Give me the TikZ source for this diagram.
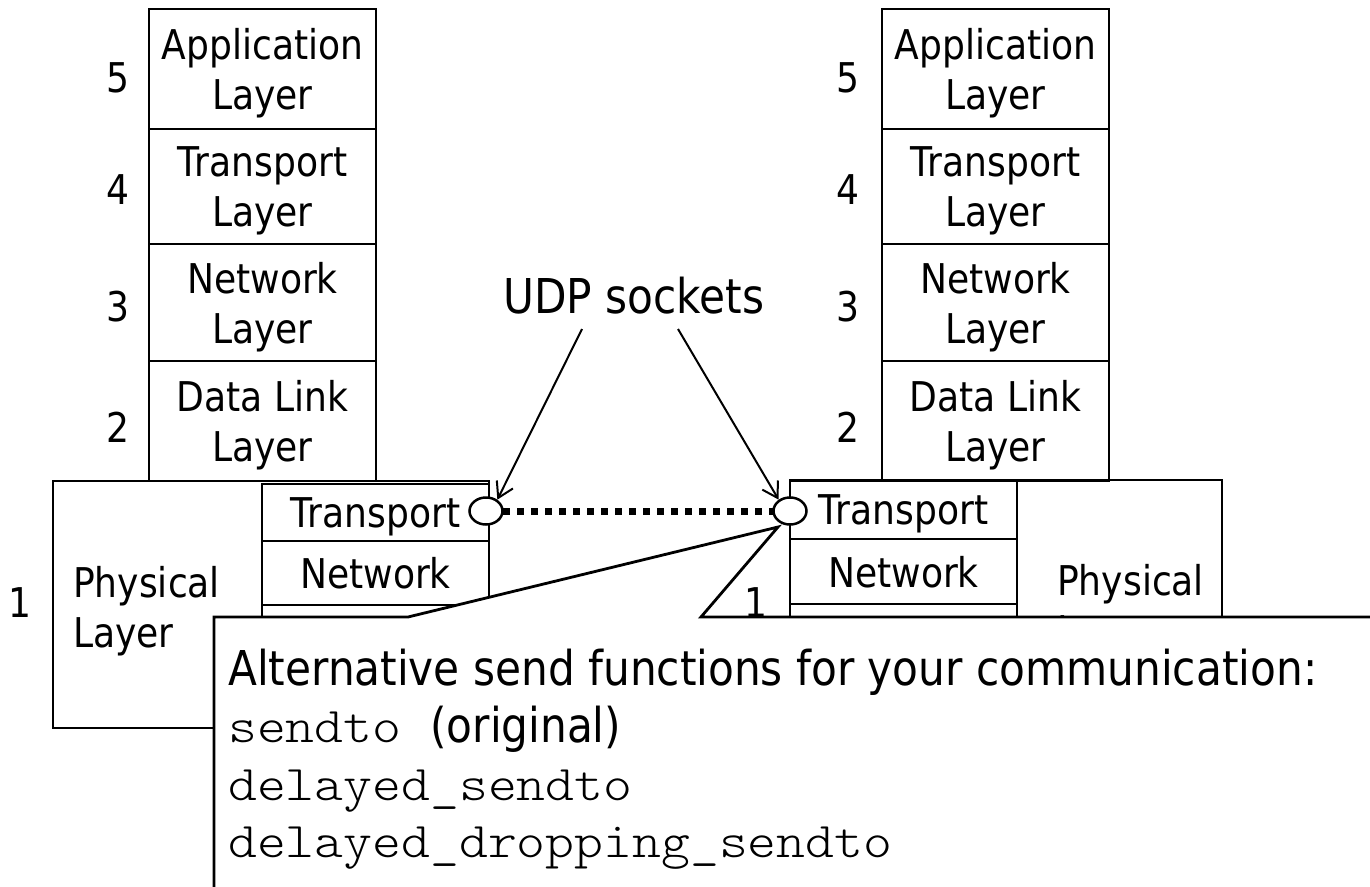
\documentclass[tikz,border=0pt]{standalone}
\usepackage{fontspec}
\setmainfont{DejaVu Sans}[FakeStretch=0.88]
\setmonofont{lmmonolt10-regular.otf}[FakeStretch=1.1]
\usetikzlibrary{arrows.meta,shapes.geometric}
\newcommand\lyrfont{\fontsize{41}{50}\selectfont}
\newcommand\callfont{\fontsize{48}{58}\selectfont}
\newcommand\codefont{\fontsize{50}{58}\selectfont\ttfamily}
\begin{document}
\begin{tikzpicture}[x=1pt,y=-1pt,
  every node/.style={inner sep=0pt},
  box/.style={draw,line width=2.5pt},
  layerbox/.style={box,minimum width=227pt,align=center,text depth=0pt,font=\lyrfont},
  rowbox/.style={box,minimum width=227pt,text depth=0pt,font=\lyrfont},
  num/.style={font=\lyrfont},
  socket/.style={draw,ellipse,fill=white,line width=2.5pt,minimum width=33pt,minimum height=27pt},
  pointer/.style={line width=2pt,-{Straight Barb[length=15pt,width=18pt]}},
  link/.style={line width=7pt,dash pattern=on 7pt off 7pt},
  calltext/.style={anchor=base west,font=\callfont},
]
\useasboundingbox (0,0) rectangle (1370,886);

% left protocol stack
\node[layerbox,minimum height=120pt] (la5) at (262.5,69)    {Application\\Layer};
\node[layerbox,minimum height=115pt] (la4) at (262.5,186.5) {Transport\\Layer};
\node[layerbox,minimum height=117pt] (la3) at (262.5,302.5) {Network\\Layer};
\node[layerbox,minimum height=120pt] (la2) at (262.5,421)   {Data Link\\Layer};
\node[num] (ln5) at (118,78)  {5};
\node[num] (ln4) at (118,190) {4};
\node[num] (ln3) at (118,307) {3};
\node[num] (ln2) at (118,427) {2};

% right protocol stack
\node[layerbox,minimum height=120pt] (ra5) at (995.5,69)    {Application\\Layer};
\node[layerbox,minimum height=115pt] (ra4) at (995.5,186.5) {Transport\\Layer};
\node[layerbox,minimum height=117pt] (ra3) at (995.5,302.5) {Network\\Layer};
\node[layerbox,minimum height=120pt] (ra2) at (995.5,421)   {Data Link\\Layer};
\node[num] (rn5) at (848,78)  {5};
\node[num] (rn4) at (848,190) {4};
\node[num] (rn3) at (848,307) {3};
\node[num] (rn2) at (848,427) {2};

% left physical layer with its embedded stack
\node[box,minimum width=436pt,minimum height=247pt] (lphy) at (271,604.5) {};
\node[anchor=base west,font=\lyrfont] (lphyt) at (73,597) {\vtop{\hbox{Physical}\hbox{Layer}}};
\node[num] (ln1) at (20,603) {1};
\node[rowbox,minimum height=57pt] (ltr) at (375.5,512.5) {Transport};
\node[rowbox,minimum height=64pt] (lnw) at (375.5,573)   {Network};
\node[rowbox,minimum height=60pt] (ldl) at (375.5,635)   {};

% right physical layer with its embedded stack
\node[box,minimum width=432pt,minimum height=220pt] (rphy) at (1006,590) {};
\node[anchor=base west,font=\lyrfont] (rphyt) at (1057,595) {\vtop{\hbox{Physical}\hbox{Layer}}};
\node[num] (rn1) at (756,603) {1};
\node[rowbox,minimum height=58pt] (rtr) at (903.5,510)   {Transport};
\node[rowbox,minimum height=65pt] (rnw) at (903.5,571.5) {Network};
\node[rowbox,minimum height=61pt] (rdl) at (903.5,634.5) {};

% sockets and the link between them
\draw[link] (503,511) -- (774,511);
\node[socket] (sockL) at (486,511) {};
\node[socket] (sockR) at (790,511) {};

% label with pointers
\node[anchor=base,font=\callfont] (udp) at (634,313) {UDP sockets};
\coordinate (ua) at (582,329);
\coordinate (ub) at (678,329);
\draw[pointer] (ua) -- (sockL.45);
\draw[pointer] (ub) -- (sockR.135);

% callout
\coordinate (tip) at (778,527);
\draw[line width=2.8pt,fill=white] (214,617) -- (408,617) -- (tip) -- (701,617)
  -- (1385,617) -- (1385,900) -- (214,900) -- cycle;
\node[calltext] (c1) at (228,685) {Alternative send functions for your communication:};
\node[calltext] (c2) at (228,742) {{\codefont sendto }(original)};
\node[calltext] (c3) at (228,800) {{\codefont delayed\_sendto}};
\node[calltext] (c4) at (228,857) {{\codefont delayed\_dropping\_sendto}};
\end{tikzpicture}
\end{document}
